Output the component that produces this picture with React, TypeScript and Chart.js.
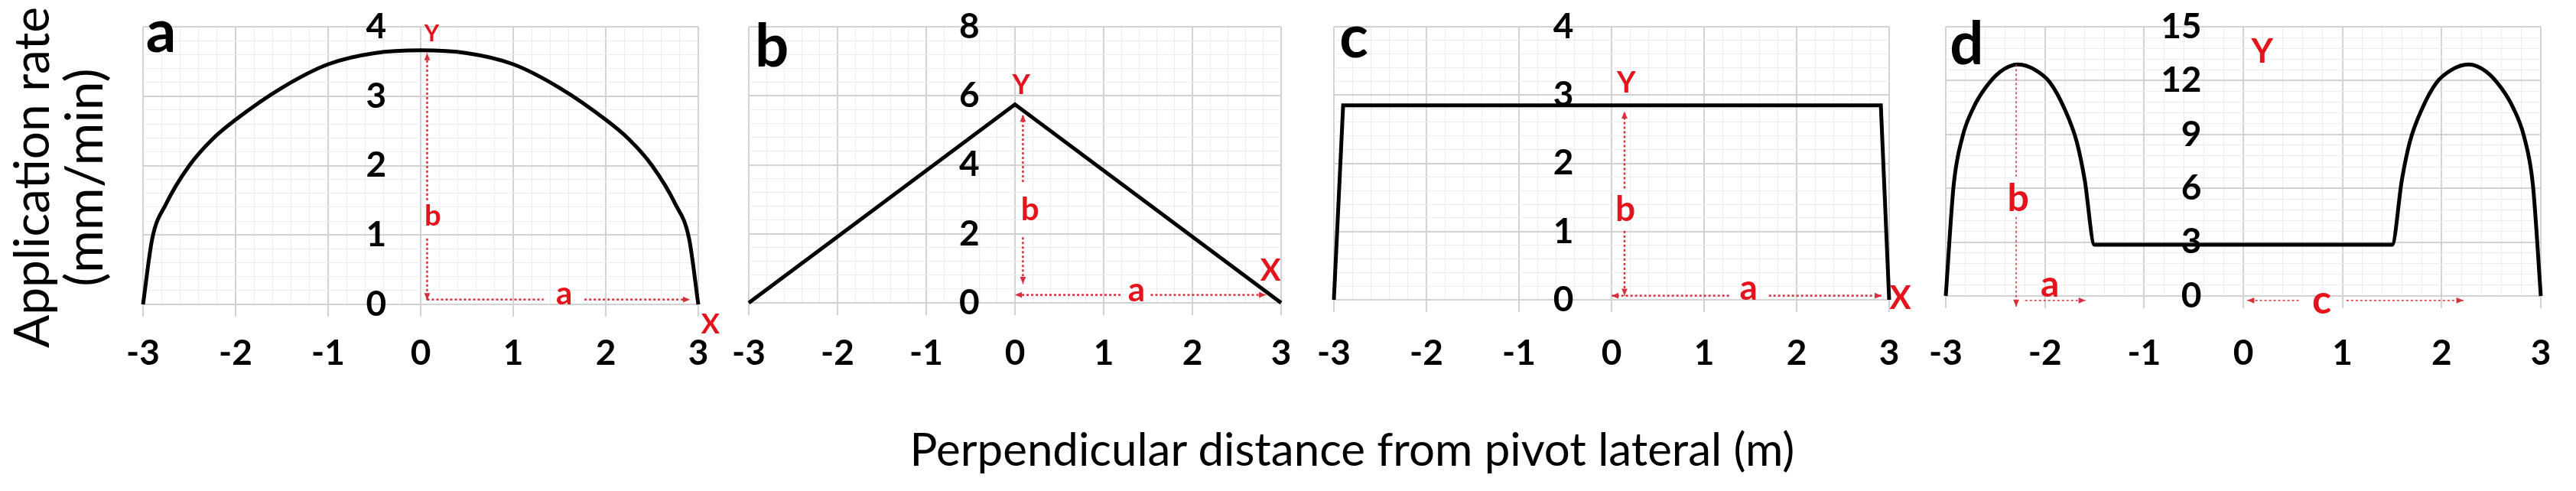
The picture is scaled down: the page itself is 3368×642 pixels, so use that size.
import React, { useEffect, useRef } from 'react';
import { Chart, registerables } from 'chart.js';

Chart.register(...registerables);

// ---------- data ----------
// Panel a: elliptical application-rate profile
const aX = [-3, -2.9, -2.75, -2.5, -2.25, -2, -1.5, -1, -0.5, 0, 0.5, 1, 1.5, 2, 2.25, 2.5, 2.75, 2.9, 3];
const aY = [0, 0.95, 1.45, 2.0, 2.38, 2.66, 3.12, 3.46, 3.62, 3.66, 3.62, 3.46, 3.12, 2.66, 2.38, 2.0, 1.45, 0.95, 0];
// Panel b: triangular profile
const bX = [-3, 0, 3];
const bY = [0, 5.75, 0];
// Panel c: rectangular (trapezoid) profile
const cX = [-3, -2.9, 2.91, 3];
const cY = [0, 2.85, 2.85, 0];
// Panel d: two humps with a flat middle
const dX = [-3, -2.92, -2.83, -2.72, -2.6, -2.45, -2.27, -2.1, -1.95, -1.8, -1.68, -1.6, -1.5, 1.5, 1.6, 1.68, 1.8, 1.95, 2.1, 2.27, 2.45, 2.6, 2.72, 2.83, 2.92, 3];
const dY = [0, 6.2, 8.9, 10.5, 11.6, 12.5, 12.9, 12.6, 11.9, 10.4, 8.6, 6.5, 2.85, 2.85, 6.5, 8.6, 10.4, 11.9, 12.6, 12.9, 12.5, 11.6, 10.5, 8.9, 6.2, 0];

// axis ranges / tick steps
const xMin = -3;
const xMax = 3;
const xMajorStep = 1;
const xMinorStep = 0.2;
const yMaxes = [4, 8, 4, 15];
const yMajorSteps = [1, 2, 1, 3];
const yMinorSteps = [0.2, 0.4, 0.2, 0.6];

const panelLetters = ['a', 'b', 'c', 'd'];
const xTitle = 'Perpendicular distance from pivot lateral (m)';
const yTitleLines = ['Application rate', '(mm/min)'];

// ---------- styling / layout ----------
const W_TOTAL = 3368;
const H_TOTAL = 642;
const PAD = 60;
const TICK_FONT = 'Lato';
const TICK_SIZE = 46;
const TICK_LEN = 16;
const LABEL_CENTER_Y = 462;
const MAJOR_GRID = '#d2d2d2';
const MINOR_GRID = '#ececec';
const RED = '#e3141b';
const RED_LINE = '#d6303c';

type Label = { t: string; x: number; y: number; s: number };
type Arrow = { x1: number; y1: number; x2: number; y2: number; h1?: boolean; h2?: boolean; w?: number };

interface PanelCfg {
  xs: number[];
  ys: number[];
  idx: number;
  L: number;
  R: number;
  T: number;
  B: number;
  yLabelAt: number; // x-value where the right edge of the y tick labels sits
  smooth: boolean;
  letterPos: { x: number; y: number; s: number };
  labels: Label[];
  arrows: Arrow[];
}

const panels: PanelCfg[] = [
  {
    xs: aX, ys: aY, idx: 0, L: 187, R: 913, T: 35, B: 398, yLabelAt: -0.37, smooth: true,
    letterPos: { x: -2.97, y: 3.64, s: 78 },
    labels: [
      { t: 'Y', x: 0.12, y: 3.9, s: 30 },
      { t: 'b', x: 0.13, y: 1.27, s: 38 },
      { t: 'a', x: 1.55, y: 0.15, s: 42 },
      { t: 'X', x: 3.13, y: -0.29, s: 36 },
    ],
    arrows: [
      { x1: 0.07, y1: 1.5, x2: 0.07, y2: 3.62, h2: true },
      { x1: 0.07, y1: 0.95, x2: 0.07, y2: 0.06, h2: true },
      { x1: 0.07, y1: 0.07, x2: 1.33, y2: 0.07 },
      { x1: 1.77, y1: 0.07, x2: 2.91, y2: 0.07, h2: true },
    ],
  },
  {
    xs: bX, ys: bY, idx: 1, L: 979, R: 1675, T: 35, B: 396, yLabelAt: -0.4, smooth: false,
    letterPos: { x: -2.93, y: 6.85, s: 78 },
    labels: [
      { t: 'Y', x: 0.07, y: 6.3, s: 36 },
      { t: 'b', x: 0.17, y: 2.7, s: 42 },
      { t: 'a', x: 1.37, y: 0.36, s: 44 },
      { t: 'X', x: 2.88, y: 0.92, s: 40 },
    ],
    arrows: [
      { x1: 0.09, y1: 3.5, x2: 0.09, y2: 5.45, h2: true },
      { x1: 0.09, y1: 1.9, x2: 0.09, y2: 0.55, h2: true },
      { x1: 1.19, y1: 0.23, x2: 0.0, y2: 0.23, h2: true },
      { x1: 1.53, y1: 0.23, x2: 2.83, y2: 0.23, h2: true },
    ],
  },
  {
    xs: cX, ys: cY, idx: 2, L: 1744, R: 2470, T: 35, B: 392, yLabelAt: -0.41, smooth: false,
    letterPos: { x: -2.94, y: 3.55, s: 78 },
    labels: [
      { t: 'Y', x: 0.16, y: 3.17, s: 38 },
      { t: 'b', x: 0.15, y: 1.32, s: 46 },
      { t: 'a', x: 1.48, y: 0.17, s: 46 },
      { t: 'X', x: 3.12, y: 0.02, s: 42 },
    ],
    arrows: [
      { x1: 0.14, y1: 1.63, x2: 0.14, y2: 2.76, h2: true },
      { x1: 0.14, y1: 1.01, x2: 0.14, y2: 0.06, h2: true },
      { x1: 1.27, y1: 0.06, x2: 0.0, y2: 0.06, h2: true },
      { x1: 1.7, y1: 0.06, x2: 2.92, y2: 0.06, h2: true },
    ],
  },
  {
    xs: dX, ys: dY, idx: 3, L: 2544, R: 3322, T: 35, B: 387, yLabelAt: -0.42, smooth: true,
    letterPos: { x: -2.96, y: 12.92, s: 78 },
    labels: [
      { t: 'Y', x: 0.19, y: 13.6, s: 44 },
      { t: 'b', x: -2.27, y: 5.4, s: 50 },
      { t: 'a', x: -1.95, y: 0.6, s: 48 },
      { t: 'c', x: 0.79, y: -0.25, s: 52 },
    ],
    arrows: [
      { x1: -2.29, y1: 12.9, x2: -2.29, y2: 6.65, w: 1.5 },
      { x1: -2.29, y1: 4.4, x2: -2.29, y2: -0.6, h2: true, w: 1.5 },
      { x1: -2.2, y1: -0.25, x2: -1.59, y2: -0.25, h2: true, w: 1.5 },
      { x1: 0.56, y1: -0.25, x2: 0.04, y2: -0.25, h2: true, w: 1.5 },
      { x1: 1.04, y1: -0.25, x2: 2.22, y2: -0.25, h2: true, w: 1.5 },
    ],
  },
];

const isMajor = (v: number, step: number) => Math.abs(v / step - Math.round(v / step)) < 1e-6;

function makeAnnotPlugin(cfg: PanelCfg) {
  return {
    id: 'annot' + cfg.idx,
    afterDraw(chart: any) {
      const ctx: CanvasRenderingContext2D = chart.ctx;
      const xs = chart.scales.x;
      const ys = chart.scales.y;
      const px = (v: number) => xs.getPixelForValue(v);
      const py = (v: number) => ys.getPixelForValue(v);
      ctx.save();
      // dotted arrows
      cfg.arrows.forEach((a) => {
        const x1 = px(a.x1), y1 = py(a.y1), x2 = px(a.x2), y2 = py(a.y2);
        ctx.strokeStyle = RED_LINE;
        ctx.fillStyle = RED_LINE;
        ctx.lineWidth = a.w || 2.5;
        ctx.setLineDash([3, 3]);
        ctx.beginPath();
        ctx.moveTo(x1, y1);
        ctx.lineTo(x2, y2);
        ctx.stroke();
        ctx.setLineDash([]);
        const head = (xa: number, ya: number, xb: number, yb: number) => {
          const ang = Math.atan2(yb - ya, xb - xa);
          const s = 10;
          ctx.beginPath();
          ctx.moveTo(xb, yb);
          ctx.lineTo(xb - s * Math.cos(ang - 0.4), yb - s * Math.sin(ang - 0.4));
          ctx.lineTo(xb - s * Math.cos(ang + 0.4), yb - s * Math.sin(ang + 0.4));
          ctx.closePath();
          ctx.fill();
        };
        if (a.h2) head(x1, y1, x2, y2);
        if (a.h1) head(x2, y2, x1, y1);
      });
      // red labels
      ctx.fillStyle = RED;
      ctx.textAlign = 'center';
      ctx.textBaseline = 'middle';
      cfg.labels.forEach((l) => {
        ctx.font = `bold ${l.s}px ${TICK_FONT}`;
        ctx.fillText(l.t, px(l.x), py(l.y));
      });
      // panel letter
      ctx.fillStyle = '#000';
      ctx.textAlign = 'left';
      ctx.textBaseline = 'alphabetic';
      ctx.font = `bold ${cfg.letterPos.s}px ${TICK_FONT}`;
      ctx.fillText(panelLetters[cfg.idx], px(cfg.letterPos.x), py(cfg.letterPos.y));
      ctx.restore();
    },
  };
}

function Panel({ cfg }: { cfg: PanelCfg }) {
  const ref = useRef<HTMLCanvasElement>(null);
  const width = cfg.R - cfg.L + 2 * PAD;
  useEffect(() => {
    if (!ref.current) return;
    const i = cfg.idx;
    const yMajor = yMajorSteps[i];
    const gridColor = (step: number) => (ctx: any) =>
      ctx.tick && isMajor(ctx.tick.value, step) ? MAJOR_GRID : MINOR_GRID;
    const gridWidth = (step: number) => (ctx: any) =>
      ctx.tick && isMajor(ctx.tick.value, step) ? 2 : 1;
    const chart = new Chart(ref.current, {
      type: 'line',
      data: {
        datasets: [
          {
            data: cfg.xs.map((x, k) => ({ x, y: cfg.ys[k] })),
            borderColor: '#000',
            borderWidth: 5,
            pointRadius: 0,
            fill: false,
            tension: 0,
            cubicInterpolationMode: cfg.smooth ? 'monotone' : 'default',
            clip: 10,
          } as any,
        ],
      },
      options: {
        animation: false,
        responsive: false,
        devicePixelRatio: 1,
        events: [],
        layout: { padding: { left: PAD, right: PAD, top: cfg.T, bottom: 0 } },
        plugins: {
          legend: { display: false },
          tooltip: { enabled: false },
          title: { display: false },
        },
        scales: {
          x: {
            type: 'linear',
            position: 'bottom',
            min: xMin,
            max: xMax,
            ticks: {
              stepSize: xMinorStep,
              autoSkip: false,
              maxRotation: 0,
              includeBounds: true,
              padding: LABEL_CENTER_Y - cfg.B - TICK_LEN - (TICK_SIZE * 1.2) / 2,
              color: '#000',
              font: { family: TICK_FONT, weight: 'bold', size: TICK_SIZE },
              callback: (v: any) => (isMajor(Number(v), xMajorStep) ? String(Math.round(Number(v))) : ''),
            },
            grid: {
              color: gridColor(xMajorStep),
              lineWidth: gridWidth(xMajorStep),
              drawTicks: true,
              tickLength: TICK_LEN,
              tickWidth: 2,
              tickColor: (ctx: any) => (ctx.tick && isMajor(ctx.tick.value, xMajorStep) ? MAJOR_GRID : 'rgba(0,0,0,0)'),
            },
            border: { display: false },
            afterFit: (scale: any) => {
              scale.height = H_TOTAL - cfg.B;
            },
          },
          y: {
            type: 'linear',
            position: { x: cfg.yLabelAt } as any,
            min: 0,
            max: yMaxes[i],
            ticks: {
              stepSize: yMinorSteps[i],
              autoSkip: false,
              padding: 0,
              color: '#000',
              font: { family: TICK_FONT, weight: 'bold', size: TICK_SIZE },
              callback: (v: any) => (isMajor(Number(v), yMajor) ? String(Math.round(Number(v))) : ''),
            },
            grid: {
              color: gridColor(yMajor),
              lineWidth: gridWidth(yMajor),
              drawTicks: false,
            },
            border: { display: false },
          },
        },
      } as any,
      plugins: [makeAnnotPlugin(cfg)],
    });
    return () => chart.destroy();
  }, []);
  return (
    <canvas
      ref={ref}
      width={width}
      height={H_TOTAL}
      style={{ position: 'absolute', left: cfg.L - PAD, top: 0, width, height: H_TOTAL }}
    />
  );
}

export default function App() {
  return (
    <div
      style={{
        position: 'fixed',
        left: 0,
        top: 0,
        width: W_TOTAL,
        height: H_TOTAL,
        background: '#fff',
        overflow: 'hidden',
      }}
    >
      {panels.map((p) => (
        <Panel key={p.idx} cfg={p} />
      ))}
      <div
        style={{
          position: 'absolute',
          left: 1768 - 1000,
          width: 2000,
          top: 556,
          textAlign: 'center',
          fontFamily: 'Lato, sans-serif',
          fontSize: 60,
          lineHeight: '60px',
          color: '#000',
          whiteSpace: 'nowrap',
        }}
      >
        {xTitle}
      </div>
      <div
        style={{
          position: 'absolute',
          left: 74 - 300,
          top: 232 - 68,
          width: 600,
          height: 136,
          transform: 'rotate(-90deg)',
          textAlign: 'center',
          fontFamily: 'Lato, sans-serif',
          color: '#000',
          whiteSpace: 'nowrap',
        }}
      >
        {yTitleLines.map((t, k) => (
          <div key={t} style={{ lineHeight: '68px', height: 68, fontSize: k === 0 ? 64 : 68 }}>
            {t}
          </div>
        ))}
      </div>
    </div>
  );
}
